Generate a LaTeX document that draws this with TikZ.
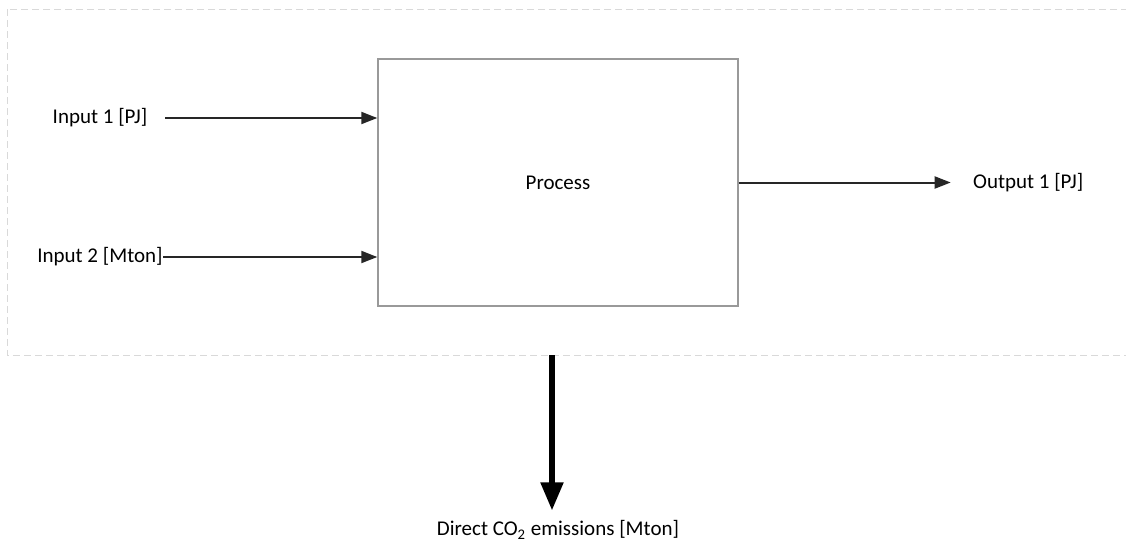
\documentclass[tikz,border=0pt]{standalone}
\usepackage{fontspec}
\setmainfont{Carlito}
\usetikzlibrary{positioning,arrows.meta}

\begin{document}
\begin{tikzpicture}[x=0.5pt,y=-0.5pt,font=\fontsize{10.5}{12}\selectfont,
		process/.style={draw=black!40,line width=.7pt,minimum width=180pt,minimum height=123.5pt},
		label/.style={inner sep=0pt,text=black},
		flow/.style={-{Triangle[length=8pt,width=6pt]},line width=1pt,draw=black!85},
		bigflow/.style={-{Triangle[length=14pt,width=11pt]},line width=2.6pt,black}]
		\clip (0,0) rectangle (1126,542);
		\draw[black!15,line width=.5pt,dash pattern=on 3.5pt off 2pt] (7,9) rectangle (1140,355);

		\node[process]                 (Process) at (558,182.5) {Process};
		\node[label]                   (Input1)  at (100,118)   {Input 1 [PJ]};
		\node[label]                   (Input2)  at (100,257)   {Input 2 [Mton]};
		\node[label,right=117pt of Process] (Output1) {Output 1 [PJ]};
		\node[label]                   (CO2)     at (558,530)   {Direct CO\textsubscript{2} emissions [Mton]};
		\coordinate (in1start) at (165,118);
		\coordinate (emit)     at (552,355);

		\draw[flow] (in1start)       -- (in1start -| Process.west);
		\draw[flow] (Input2.east)    -- (Input2.east -| Process.west);
		\draw[flow] (Process.east)   -- ++(212,0) coordinate (out1end);
		\draw[bigflow,shorten >=5pt] (emit) -- (emit |- CO2.north);
	\end{tikzpicture}
\end{document}
